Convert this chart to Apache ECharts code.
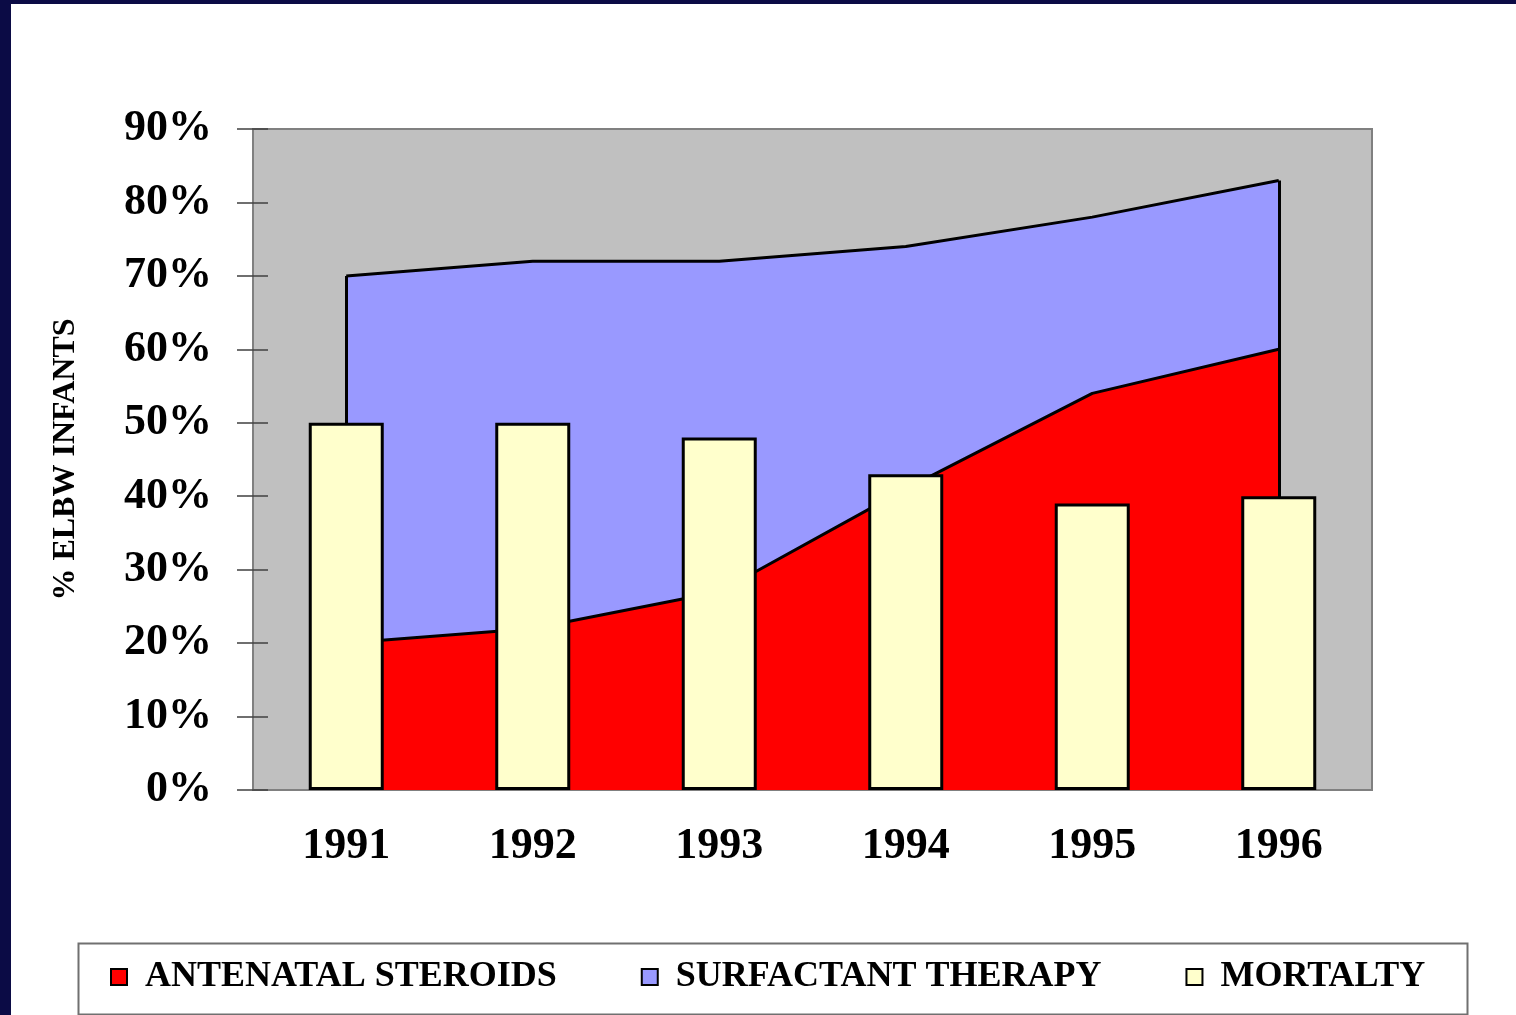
<!DOCTYPE html>
<html>
<head>
<meta charset="utf-8">
<title>ELBW infants 1991-1996</title>
<script src="https://cdn.jsdelivr.net/npm/echarts@6/dist/echarts.min.js"></script>
<style>
  html, body { margin: 0; padding: 0; background: #0b0b45; }
  #chart { position: absolute; left: 11px; top: 4px; width: 1505px; height: 1011px; background: #ffffff; }
</style>
</head>
<body>
<div id="chart"></div>
<script>
// data
var years = ['1991', '1992', '1993', '1994', '1995', '1996'];
var steroids = [20, 22, 27, 41, 54, 60];
var surfactant = [70, 72, 72, 74, 78, 83];
var mortality = [50, 50, 48, 43, 39, 40];
var yTicks = { min: 0, max: 90, step: 10 };

var serif = '"Liberation Serif", "Times New Roman", serif';
var first = years[0], last = years[years.length - 1];

// vertical closing edges of the area shapes
function edges(values) {
  return [
    [{ coord: [first, 0] }, { coord: [first, values[0]] }],
    [{ coord: [last, 0] }, { coord: [last, values[values.length - 1]] }]
  ];
}

var chart = echarts.init(document.getElementById('chart'));
var option = {
  animation: false,
  grid: {
    left: 242, top: 125, right: 144, bottom: 225,
    show: true,
    backgroundColor: '#C0C0C0',
    borderColor: '#808080',
    borderWidth: 2
  },
  legend: {
    data: ['ANTENATAL STEROIDS', 'SURFACTANT THERAPY', 'MORTALTY'],
    left: 99,
    top: 955,
    padding: 0,
    itemGap: 84,
    itemWidth: 16,
    itemHeight: 16,
    icon: 'rect',
    itemStyle: { borderColor: '#000', borderWidth: 2 },
    textStyle: { fontFamily: serif, fontWeight: 'bold', fontSize: 36, color: '#000', padding: [0, 0, 0, 13] }
  },
  graphic: [{
    type: 'rect',
    left: 65, top: 937,
    shape: { width: 1389, height: 71 },
    style: { fill: 'none', stroke: '#707070', lineWidth: 2 },
    silent: true
  }],
  xAxis: [{
    type: 'category',
    data: years,
    boundaryGap: true,
    axisLine: { lineStyle: { color: '#808080', width: 2 } },
    axisTick: { length: 13, lineStyle: { color: '#606060', width: 2 } },
    axisLabel: { fontFamily: serif, fontWeight: 'bold', fontSize: 44, color: '#000', margin: 35 }
  }, {
    type: 'category',
    data: years,
    position: 'bottom',
    boundaryGap: true,
    axisLine: { show: false },
    axisTick: { inside: true, length: 13, lineStyle: { color: '#606060', width: 2 } },
    axisLabel: { show: false }
  }],
  yAxis: [{
    type: 'value',
    min: yTicks.min, max: yTicks.max, interval: yTicks.step,
    name: '% ELBW INFANTS',
    nameLocation: 'middle',
    nameGap: 171,
    nameTextStyle: { fontFamily: serif, fontWeight: 'bold', fontSize: 32, color: '#000' },
    axisLine: { show: true, lineStyle: { color: '#808080', width: 2 } },
    axisTick: { show: true, length: 16, lineStyle: { color: '#404040', width: 1.5 } },
    axisLabel: { fontFamily: serif, fontWeight: 'bold', fontSize: 44, color: '#000', margin: 41, padding: [8, 0, 0, 0], formatter: '{value}%' },
    splitLine: { show: false }
  }, {
    type: 'value',
    position: 'left',
    min: yTicks.min, max: yTicks.max, interval: yTicks.step,
    axisLine: { show: false },
    axisTick: { show: true, inside: true, length: 15, lineStyle: { color: '#404040', width: 1.5 } },
    axisLabel: { show: false },
    splitLine: { show: false }
  }],
  series: [{
    name: 'SURFACTANT THERAPY',
    type: 'line',
    z: 1,
    data: surfactant,
    showSymbol: false,
    symbol: 'none',
    itemStyle: { color: '#9999FF' },
    lineStyle: { color: '#000', width: 3 },
    areaStyle: { color: '#9999FF', opacity: 1 },
    markLine: {
      z: 1.5, silent: true, symbol: ['none', 'none'], label: { show: false },
      lineStyle: { color: '#000', width: 3, type: 'solid' },
      emphasis: { disabled: true },
      data: edges(surfactant)
    }
  }, {
    name: 'ANTENATAL STEROIDS',
    type: 'line',
    z: 2,
    data: steroids,
    showSymbol: false,
    symbol: 'none',
    itemStyle: { color: '#FF0000' },
    lineStyle: { color: '#000', width: 3 },
    areaStyle: { color: '#FF0000', opacity: 1 },
    markLine: {
      z: 2.5, silent: true, symbol: ['none', 'none'], label: { show: false },
      lineStyle: { color: '#000', width: 3, type: 'solid' },
      emphasis: { disabled: true },
      data: edges(steroids)
    }
  }, {
    name: 'MORTALTY',
    type: 'bar',
    z: 3,
    barWidth: 75,
    data: mortality,
    itemStyle: { color: '#FFFFCC', borderColor: '#000', borderWidth: 3 }
  }]
};
chart.setOption(option);
</script>
</body>
</html>
